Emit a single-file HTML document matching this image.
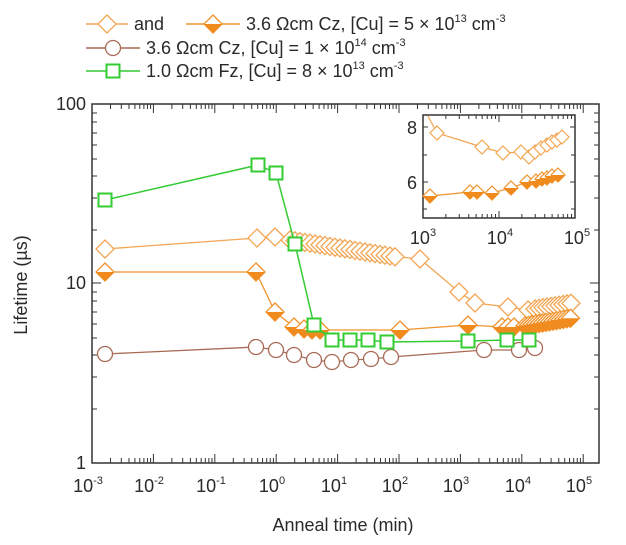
<!DOCTYPE html>
<html><head><meta charset="utf-8"><style>
body{margin:0;background:#fff}
text{font-family:"Liberation Sans",sans-serif;fill:#2a2a2a}
</style></head><body>
<svg width="626" height="540" viewBox="0 0 626 540" xmlns="http://www.w3.org/2000/svg">
<defs>
<g id="od"><path d="M0,-9 L9,0 L0,9 L-9,0Z" fill="#fff" stroke="#f2a552" stroke-width="1.3"/></g>
<g id="fd"><path d="M0,-9 L9,0 L0,9 L-9,0Z" fill="#fff" stroke="#f0922a" stroke-width="1.3"/><path d="M-9,0 L9,0 L0,9Z" fill="#f08a1c"/></g>
<g id="oc"><circle r="7.5" fill="#fff" stroke="#a86a55" stroke-width="1.3"/></g>
<g id="gs"><rect x="-6.5" y="-6.5" width="13" height="13" fill="#fff" stroke="#33cc33" stroke-width="2"/></g>
<g id="sod"><path d="M0,-7 L7,0 L0,7 L-7,0Z" fill="#fff" stroke="#f2a552" stroke-width="1.2"/></g>
<g id="sfd"><path d="M0,-7 L7,0 L0,7 L-7,0Z" fill="#fff" stroke="#f0922a" stroke-width="1.2"/><path d="M-7,0 L7,0 L0,7Z" fill="#f08a1c"/></g>
</defs>
<!-- legend -->
<line x1="86" y1="24" x2="128" y2="24" stroke="#f2a552" stroke-width="1.5"/><use href="#od" x="107" y="24"/>
<text x="134" y="30" font-size="18">and</text>
<line x1="186" y1="24" x2="240" y2="24" stroke="#f0922a" stroke-width="1.5"/><use href="#fd" x="213" y="24"/>
<text x="246" y="30" font-size="18">3.6 Ωcm Cz, [Cu] = 5 × 10<tspan font-size="11" dy="-8">13</tspan><tspan dy="8"> cm</tspan><tspan font-size="11" dy="-8">-3</tspan></text>
<line x1="86" y1="48" x2="140" y2="48" stroke="#a86a55" stroke-width="1.5"/><use href="#oc" x="113" y="48"/>
<text x="146" y="54" font-size="18">3.6 Ωcm Cz, [Cu] = 1 × 10<tspan font-size="11" dy="-8">14</tspan><tspan dy="8"> cm</tspan><tspan font-size="11" dy="-8">-3</tspan></text>
<line x1="86" y1="71" x2="140" y2="71" stroke="#33cc33" stroke-width="1.5"/><use href="#gs" x="113" y="71"/>
<text x="146" y="77" font-size="18">1.0 Ωcm Fz, [Cu] = 8 × 10<tspan font-size="11" dy="-8">13</tspan><tspan dy="8"> cm</tspan><tspan font-size="11" dy="-8">-3</tspan></text>
<!-- axes -->
<rect x="92" y="104" width="507" height="359" fill="none" stroke="#333" stroke-width="1.5"/>
<g stroke="#333" stroke-width="1">
<path d="M92,104h9M92,283h9M599,104h-9M599,283h-9"/>
<path d="M92,409h5M92,377h5M92,355h5M92,338h5M92,324h5M92,312h5M92,301h5M92,292h5M92,230h5M92,198h5M92,176h5M92,159h5M92,145h5M92,133h5M92,122h5M92,113h5"/>
<path d="M599,409h-5M599,377h-5M599,355h-5M599,338h-5M599,324h-5M599,312h-5M599,301h-5M599,292h-5M599,230h-5M599,198h-5M599,176h-5M599,159h-5M599,145h-5M599,133h-5M599,122h-5M599,113h-5"/>
</g>
<g id="xt" stroke="#333" stroke-width="1"></g>
<script>
(function(){var g=document.getElementById('xt'),s='';for(var d=0;d<9;d++){var x0=92+d*61.4;s+='M'+x0+',463v-9M'+x0+',104v9';if(d<8)for(var m=2;m<10;m++){var x=x0+Math.log10(m)*61.4;s+='M'+x+',463v-5M'+x+',104v5';}}
var p=document.createElementNS('http://www.w3.org/2000/svg','path');p.setAttribute('d',s);g.appendChild(p);})();
</script>
<g font-size="18">
<text x="86" y="469" text-anchor="end">1</text>
<text x="86" y="289" text-anchor="end">10</text>
<text x="86" y="110" text-anchor="end">100</text>
</g>
<g font-size="18" text-anchor="middle">
<text x="88" y="492">10<tspan font-size="11" dy="-8">-3</tspan></text>
<text x="149" y="492">10<tspan font-size="11" dy="-8">-2</tspan></text>
<text x="211" y="492">10<tspan font-size="11" dy="-8">-1</tspan></text>
<text x="272" y="492">10<tspan font-size="11" dy="-8">0</tspan></text>
<text x="334" y="492">10<tspan font-size="11" dy="-8">1</tspan></text>
<text x="395" y="492">10<tspan font-size="11" dy="-8">2</tspan></text>
<text x="456" y="492">10<tspan font-size="11" dy="-8">3</tspan></text>
<text x="518" y="492">10<tspan font-size="11" dy="-8">4</tspan></text>
<text x="579" y="492">10<tspan font-size="11" dy="-8">5</tspan></text>
</g>
<text x="343" y="531" font-size="18" text-anchor="middle">Anneal time (min)</text>
<text transform="translate(27,285) rotate(-90)" font-size="18" text-anchor="middle">Lifetime (µs)</text>
<!-- series -->
<polyline fill="none" stroke="#a86a55" stroke-width="1.3" points="105,354 256,347 276,350 294,355 314,360 332,362 351,360 371,359 391,357 484,350 519,350 535,348"/>
<g><use href="#oc" x="105" y="354"/><use href="#oc" x="256" y="347"/><use href="#oc" x="276" y="350"/><use href="#oc" x="294" y="355"/><use href="#oc" x="314" y="360"/><use href="#oc" x="332" y="362"/><use href="#oc" x="351" y="360"/><use href="#oc" x="371" y="359"/><use href="#oc" x="391" y="357"/><use href="#oc" x="484" y="350"/><use href="#oc" x="519" y="350"/><use href="#oc" x="535" y="348"/></g>
<polyline fill="none" stroke="#f2a552" stroke-width="1.3" points="105,249 257,238 275,237 290,240 300,241 310,242 320,244 330,246 340,248 350,250 360,252 370,254 380,256 390,256 400,257 420,259 459,292 475,303 508,307 528,310 540,308 550,306 560,304 574,303"/>
<g id="odg"></g>
<polyline fill="none" stroke="#f0922a" stroke-width="1.3" points="105,272 256,272 275,312 294,327 312,330 400,330 468,325 502,327 530,325 550,322 571,318"/>
<g id="fdg"></g>
<script>
(function(){function put(id,ref,pts){var g=document.getElementById(id);pts.forEach(function(p){var u=document.createElementNS('http://www.w3.org/2000/svg','use');u.setAttribute('href',ref);u.setAttribute('x',p[0]);u.setAttribute('y',p[1]);g.appendChild(u);});}
var od=[[105,249],[257,238],[275,237]];for(var x=290;x<=395;x+=5)od.push([x,240+(x-290)*0.16]);od.push([420,259],[459,292],[475,303],[508,307],[528,310]);for(var x=535;x<=574;x+=4)od.push([x,309-(x-535)*0.16]);
put('odg','#od',od);
var fd=[[105,272],[256,272],[275,312],[294,327],[304,329],[312,330],[320,330],[400,330],[468,325],[502,327],[508,327],[514,327]];for(var x=525;x<=571;x+=3.5)fd.push([x,326-(x-525)*0.17]);
put('fdg','#fd',fd);})();
</script>
<polyline fill="none" stroke="#33cc33" stroke-width="1.5" points="105,200 258,165 276,173 295,244 314,325 332,340 350,340 368,340 387,342 468,341 507,340 529,340"/>
<g><use href="#gs" x="105" y="200"/><use href="#gs" x="258" y="165"/><use href="#gs" x="276" y="173"/><use href="#gs" x="295" y="244"/><use href="#gs" x="314" y="325"/><use href="#gs" x="332" y="340"/><use href="#gs" x="350" y="340"/><use href="#gs" x="368" y="340"/><use href="#gs" x="387" y="342"/><use href="#gs" x="468" y="341"/><use href="#gs" x="507" y="340"/><use href="#gs" x="529" y="340"/></g>
<!-- inset -->
<rect x="423" y="115" width="152" height="103" fill="#fff" stroke="#333" stroke-width="1.5"/>
<g stroke="#333" stroke-width="1"><path d="M423,127h5M423,155h4M423,182h5M423,209h4M575,127h-5M575,155h-4M575,182h-5M575,209h-4"/></g>
<g id="it" stroke="#333" stroke-width="1"></g>
<script>
(function(){var g=document.getElementById('it'),s='';for(var d=0;d<2;d++){var x0=423+d*76;for(var m=1;m<10;m++){var x=x0+Math.log10(m)*76;var l=m==1?7:4;s+='M'+x+',218v-'+l+'M'+x+',115v'+l;}}s+='M575,218v-7M575,115v7';
var p=document.createElementNS('http://www.w3.org/2000/svg','path');p.setAttribute('d',s);g.appendChild(p);})();
</script>
<text x="417" y="134" font-size="18" text-anchor="end">8</text>
<text x="417" y="189" font-size="18" text-anchor="end">6</text>
<g font-size="18" text-anchor="middle">
<text x="423" y="244">10<tspan font-size="11" dy="-8">3</tspan></text>
<text x="500" y="244">10<tspan font-size="11" dy="-8">4</tspan></text>
<text x="577" y="244">10<tspan font-size="11" dy="-8">5</tspan></text>
</g>
<polyline fill="none" stroke="#f2a552" stroke-width="1.2" points="428,116 437,133 482,147 503,153 521,152 529,157 540,150 550,144 562,137"/>
<g><use href="#sod" x="437" y="133"/><use href="#sod" x="482" y="147"/><use href="#sod" x="503" y="153"/><use href="#sod" x="521" y="152"/><use href="#sod" x="529" y="157"/><use href="#sod" x="535" y="152"/><use href="#sod" x="541" y="148"/><use href="#sod" x="547" y="145"/><use href="#sod" x="552" y="142"/><use href="#sod" x="557" y="140"/><use href="#sod" x="562" y="137"/></g>
<polyline fill="none" stroke="#f0922a" stroke-width="1.2" points="430,196 470,192 477,192 492,193 511,188 527,182 545,178 558,175"/>
<g><use href="#sfd" x="430" y="196"/><use href="#sfd" x="470" y="192"/><use href="#sfd" x="477" y="192"/><use href="#sfd" x="492" y="193"/><use href="#sfd" x="511" y="188"/><use href="#sfd" x="527" y="182"/><use href="#sfd" x="536" y="181"/><use href="#sfd" x="542" y="179"/><use href="#sfd" x="547" y="178"/><use href="#sfd" x="552" y="176"/><use href="#sfd" x="558" y="175"/></g>
</svg>
</body></html>
